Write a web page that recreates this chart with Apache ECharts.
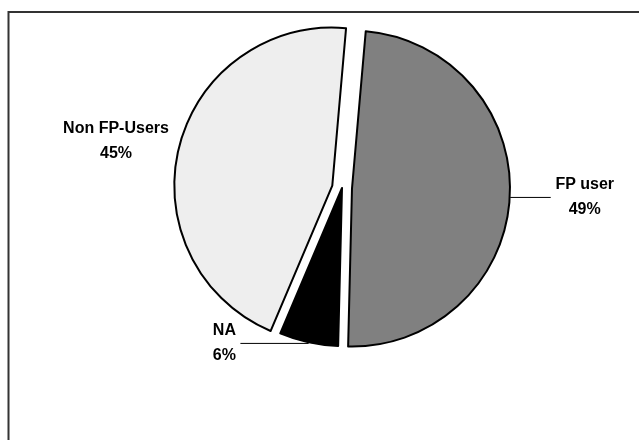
<!DOCTYPE html>
<html>
<head>
<meta charset="utf-8">
<script src="https://cdn.jsdelivr.net/npm/echarts@6/dist/echarts.min.js"></script>
<style>
  html, body { margin: 0; padding: 0; background: #fff; }
  #pieChart { width: 639px; height: 440px; }
</style>
</head>
<body>
<div id="pieChart"></div>
<script>
// slice names, values (percent) and fills
var names = ['FP user', 'NA', 'Non FP-Users'];
var values = [49, 6, 45];
var colors = ['#808080', '#000000', '#eeeeee'];
var exploded = [true, false, true];

var myChart = echarts.init(document.getElementById('pieChart'));

// both text lines centred in a box of given width (excel style)
function labelRich(w) {
    return {
        a: {
            fontFamily: 'Liberation Sans, Arial, sans-serif',
            fontWeight: 'bold',
            fontSize: 16,
            color: '#000',
            lineHeight: 25,
            width: w,
            align: 'center'
        }
    };
}

function buildData() {
    var dataList = [];
    for (let index = 0; index < names.length; index++) {
        var item = {
            name: names[index],
            value: values[index],
            selected: exploded[index],
            itemStyle: { color: colors[index] }
        };
        if (names[index] == 'FP user') {
            item.label = { rich: labelRich(64) };
            item.labelLine = { length: 1, length2: 40 };
        }
        if (names[index] == 'Non FP-Users') {
            // excel put this one next to the slice, no leader line
            item.label = { rich: labelRich(112) };
            item.labelLine = { show: false, length: 1, length2: 4 };
        }
        if (names[index] == 'NA') {
            item.label = { rich: labelRich(28) };
            item.labelLine = { length: 1, length2: 68 };
        }
        dataList.push(item);
    }
    return dataList;
}

var option = {
    animation: false,
    backgroundColor: '#ffffff',
    graphic: [{
        type: 'rect',
        shape: { x: 8.5, y: 12, width: 700, height: 500 },
        style: { fill: 'none', stroke: '#333333', lineWidth: 2 },
        silent: true
    }],
    series: [{
        type: 'pie',
        center: [342, 188],
        radius: 158,
        startAngle: 85,
        clockwise: true,
        avoidLabelOverlap: false,
        selectedMode: 'multiple',
        selectedOffset: 10,
        itemStyle: { borderColor: '#000000', borderWidth: 2 },
        emphasis: { disabled: true },
        label: {
            show: true,
            position: 'outside',
            formatter: function (p) {
                return '{a|' + p.name + '}\n{a|' + Math.round(p.percent) + '%}';
            },
            rich: labelRich(80),
            distanceToLabelLine: 2
        },
        labelLine: {
            show: true,
            length: 1,
            length2: 38,
            lineStyle: { color: '#000', width: 1 }
        },
        labelLayout: function (params) {
            // lift the Non FP-Users label a bit
            if (params.dataIndex == 2) {
                return { dy: -6 };
            }
        },
        data: buildData()
    }]
};
myChart.setOption(option);
</script>
</body>
</html>
